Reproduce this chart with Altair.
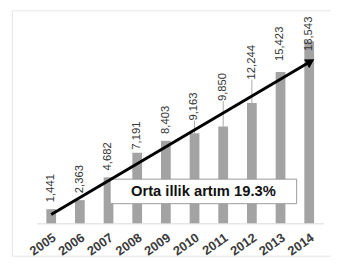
import math
import altair as alt
import pandas as pd

# ---- data ----
years = ["2005", "2006", "2007", "2008", "2009", "2010", "2011", "2012", "2013", "2014"]
values = [1441, 2363, 4682, 7191, 8403, 9163, 9850, 12244, 15423, 18543]
value_labels = ["1,441", "2,363", "4,682", "7,191", "8,403", "9,163", "9,850", "12,244", "15,423", "18,543"]
trend_start = 900
trend_end = 16400
note_text = "Orta illik artım 19.3%"

# ---- layout ----
W, H = 325, 250
Y_DOMAIN = [-3300, 21700]          # 10 px per 1000
PX_PER_UNIT = H / (Y_DOMAIN[1] - Y_DOMAIN[0])
X_RANGE = [25.4, 317.4]
STEP = (X_RANGE[1] - X_RANGE[0]) / 10.0
label_gap_px = 7
label_extra_px = {"2008": -4, "2010": 6, "2011": 19, "2012": 17, "2013": 4, "2014": -17}
leader_years = ["2010", "2011", "2012"]
FONT = "Liberation Sans"

df = pd.DataFrame({"year": years, "value": values, "label": value_labels})
df["label_y"] = [
    v + (label_gap_px + label_extra_px.get(y, 0)) / PX_PER_UNIT for y, v in zip(years, values)
]
leaders = df[df["year"].isin(leader_years)]
trend = pd.DataFrame({"year": [years[0], years[-1]], "value": [trend_start, trend_end]})
head = trend.iloc[[1]]

dx = STEP * (len(years) - 1)
dy = (trend_end - trend_start) * PX_PER_UNIT
head_angle = 90 - math.degrees(math.atan2(dy, dx))

x_enc = alt.X(
    "year:O",
    sort=years,
    scale=alt.Scale(range=X_RANGE, paddingInner=0.66, paddingOuter=0.33),
    axis=alt.Axis(
        title=None, ticks=False, offset=-(H - 217), domainColor="#d9d9d9", domainWidth=1,
        labelAngle=-35, labelAlign="right", labelBaseline="top", labelPadding=8,
        labelFont=FONT, labelFontSize=13, labelFontWeight="bold", labelColor="#3a3a3a",
        labelOverlap=False,
    ),
)
y_scale = alt.Scale(domain=Y_DOMAIN, nice=False, zero=False)

base = alt.Chart(df)

bars = base.mark_bar(color="#a3a3a3").encode(
    x=x_enc,
    y=alt.Y("value:Q", scale=y_scale, axis=None),
    y2=alt.datum(0),
)

leader_rules = alt.Chart(leaders).mark_rule(color="#a8a8a8", strokeWidth=1).encode(
    x=alt.X("year:O", sort=years),
    y="value:Q",
    y2="label_y:Q",
)

labels = base.mark_text(
    angle=270, align="left", baseline="middle", font=FONT, fontSize=11.5, color="#333333"
).encode(
    x=alt.X("year:O", sort=years),
    y="label_y:Q",
    text="label:N",
)

note_box = alt.Chart(pd.DataFrame({"t": [note_text]})).mark_rect(
    fill="white", stroke="#9a9a9a", strokeWidth=1
).encode(
    x=alt.value(100), x2=alt.value(290), y=alt.datum(4500), y2=alt.datum(2000)
)
note = alt.Chart(pd.DataFrame({"t": [note_text]})).mark_text(
    font=FONT, fontSize=15, fontWeight="bold", color="#111111", baseline="middle", align="center"
).encode(x=alt.value(195), y=alt.datum(3250), text="t:N")

arrow_line = alt.Chart(trend).mark_line(color="black", strokeWidth=3).encode(
    x=alt.X("year:O", sort=years),
    y="value:Q",
)
arrow_head = alt.Chart(head).mark_point(
    shape="triangle", filled=True, color="black", size=110, angle=head_angle, opacity=1
).encode(
    x=alt.X("year:O", sort=years),
    y="value:Q",
)

chart = (
    alt.layer(bars, leader_rules, labels, note_box, note, arrow_line, arrow_head)
    .properties(
        width=W, height=H,
        padding={"left": 4, "top": 0, "right": 0, "bottom": 0},
        autosize=alt.AutoSizeParams(type="none"),
        background="white",
    )
    .configure_view(stroke="#e4e4e4", strokeWidth=1)
)

chart.save("out.html", embed_options={"renderer": "svg", "actions": False})
